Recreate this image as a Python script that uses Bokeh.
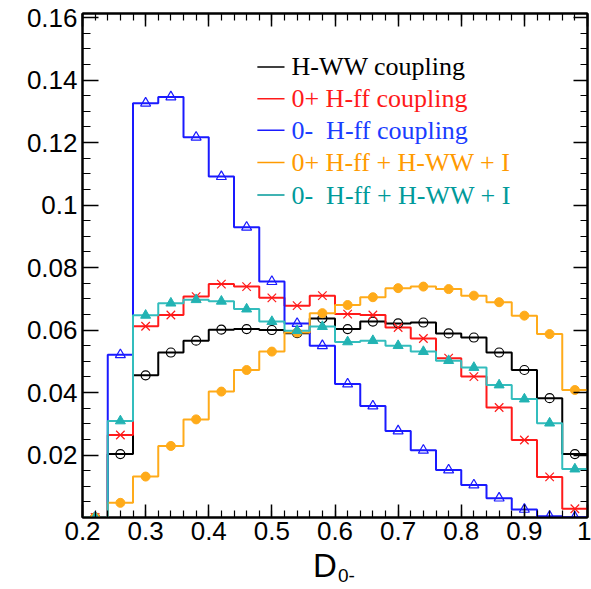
import numpy as np
from bokeh.plotting import figure
from bokeh.layouts import column
from bokeh.models import Range1d, LinearAxis, FixedTicker, CustomJSTickFormatter, Label, Div
from bokeh.embed import file_html
from bokeh.resources import INLINE

# ---------------- data ----------------
bin_edges = [0.20, 0.24, 0.28, 0.32, 0.36, 0.40, 0.44, 0.48, 0.52, 0.56, 0.60,
             0.64, 0.68, 0.72, 0.76, 0.80, 0.84, 0.88, 0.92, 0.96, 1.00]

hww = [0.0, 0.0203, 0.0455, 0.0528, 0.0566, 0.0601, 0.0603, 0.0600, 0.0590, 0.0637,
       0.0603, 0.0627, 0.0621, 0.0624, 0.0589, 0.0576, 0.0528, 0.0472, 0.0382, 0.0203]
hff_plus = [0.0, 0.0264, 0.0612, 0.0648, 0.0707, 0.0747, 0.0739, 0.0703, 0.0678, 0.0710,
            0.0651, 0.0648, 0.0608, 0.0573, 0.0510, 0.0451, 0.0352, 0.0248, 0.0130, 0.0028]
hff_minus = [0.0, 0.0521, 0.1326, 0.1346, 0.1217, 0.1091, 0.0929, 0.0755, 0.0621, 0.0550,
             0.0427, 0.0357, 0.0277, 0.0215, 0.0152, 0.0104, 0.0062, 0.0026, 0.0004, 0.0001]
mix_plus = [0.0, 0.0047, 0.0131, 0.0229, 0.0314, 0.0403, 0.0472, 0.0531, 0.0592, 0.0654,
            0.0680, 0.0705, 0.0734, 0.0739, 0.0731, 0.0710, 0.0689, 0.0646, 0.0587, 0.0408]
mix_minus = [0.0, 0.0309, 0.0647, 0.0686, 0.0697, 0.0692, 0.0667, 0.0627, 0.0598, 0.0611,
             0.0562, 0.0566, 0.0550, 0.0531, 0.0502, 0.0480, 0.0424, 0.0379, 0.0302, 0.0155]

series_labels = ["H-WW coupling", "0+ H-ff coupling", "0-\u00a0 H-ff coupling",
                 "0+ H-ff + H-WW + I", "0-\u00a0 H-ff + H-WW + I"]

x_major_ticks = [0.2, 0.3, 0.4, 0.5, 0.6, 0.7, 0.8, 0.9, 1.0]
y_major_ticks = [0.02, 0.04, 0.06, 0.08, 0.10, 0.12, 0.14, 0.16]

# ---------------- styles ----------------
series = [
    dict(vals=hww, line="#000000", text="#000000", marker="circle", fill=None, size=9),
    dict(vals=hff_plus, line="#ff1a1a", text="#ff1a1a", marker="x", fill=None, size=12),
    dict(vals=hff_minus, line="#1a1aff", text="#1a3cff", marker="triangle", fill=None, size=10),
    dict(vals=mix_plus, line="#ffab1a", text="#ff9a00", marker="circle", fill="#ffab1a", size=9),
    dict(vals=mix_minus, line="#33bdbd", text="#009a9a", marker="triangle", fill="#22b3b3", size=10),
]
legend_line_colors = ["#000000", "#ff1a1a", "#1a1aff", "#ff9a00", "#009a9a"]

p = figure(width=591, height=550, output_backend="svg", toolbar_location=None,
           x_range=Range1d(0.2, 1.0), y_range=Range1d(0.0, 0.1613),
           min_border_left=82, min_border_right=4, min_border_top=13, min_border_bottom=33)
p.xgrid.visible = False
p.ygrid.visible = False
p.outline_line_color = "black"
p.outline_line_width = 2
p.background_fill_color = "white"
p.border_fill_color = "white"

x_minor = [round(0.2 + 0.02 * i, 2) for i in range(41)]
y_minor = [round(0.005 * i, 3) for i in range(33)]
fmt = CustomJSTickFormatter(code="return String(parseFloat(tick.toFixed(3)));")
blank = CustomJSTickFormatter(code="return '';")

def style_axis(ax, ticks, minor, formatter, major_len, minor_len):
    ax.ticker = FixedTicker(ticks=ticks, minor_ticks=minor)
    ax.formatter = formatter
    ax.major_tick_in = major_len
    ax.major_tick_out = 0
    ax.minor_tick_in = minor_len
    ax.minor_tick_out = 0
    ax.major_tick_line_width = 1.5
    ax.minor_tick_line_width = 1.2
    ax.axis_line_width = 2
    ax.major_label_text_font = "Liberation Sans"
    ax.major_label_text_font_size = "26px"
    ax.major_label_text_color = "black"

style_axis(p.xaxis[0], x_major_ticks, x_minor, fmt, 13, 7)
p.xaxis[0].major_label_standoff = 4
style_axis(p.yaxis[0], y_major_ticks, y_minor, fmt, 16, 8)
p.yaxis[0].major_label_standoff = 5

top = LinearAxis()
style_axis(top, x_major_ticks, x_minor, blank, 13, 7)
top.major_label_text_font_size = "0px"
top.major_label_standoff = 0
p.add_layout(top, "above")
right = LinearAxis()
style_axis(right, y_major_ticks, y_minor, blank, 14, 7)
right.major_label_text_font_size = "0px"
right.major_label_standoff = 0
p.add_layout(right, "right")

centers = [(bin_edges[i] + bin_edges[i + 1]) / 2 for i in range(len(bin_edges) - 1)]

for s in series:
    xs, ys = [], []
    for i, v in enumerate(s["vals"]):
        xs += [bin_edges[i], bin_edges[i + 1]]
        ys += [v, v]
    p.line(xs, ys, line_color=s["line"], line_width=2)
for s in series:
    if s["fill"] is None:
        p.scatter(centers, s["vals"], marker=s["marker"], size=s["size"],
                  fill_color=None, line_color=s["line"], line_width=1.2)
    else:
        p.scatter(centers, s["vals"], marker=s["marker"], size=s["size"],
                  fill_color=s["fill"], line_color=s["fill"], line_width=1)

# ---------------- legend ----------------
leg_x0, leg_x1, leg_tx = 0.477, 0.520, 0.531
leg_y = [0.1442, 0.1340, 0.1239, 0.1136, 0.1032]
for i, s in enumerate(series):
    p.segment(x0=[leg_x0], y0=[leg_y[i]], x1=[leg_x1], y1=[leg_y[i]],
              line_color=legend_line_colors[i], line_width=1.5)
    p.add_layout(Label(x=leg_tx, y=leg_y[i], text=series_labels[i],
                       text_font="Liberation Serif", text_font_size="26px",
                       text_color=s["text"], text_baseline="middle", text_align="left"))

# ---------------- axis title D_{0-} ----------------
title_html = (
    '<div style="position:relative;width:591px;height:39px;'
    'font-family:\'Liberation Sans\';color:black;">'
    '<span style="position:absolute;left:313px;top:-1px;font-size:33px;line-height:1;">D</span>'
    '<span style="position:absolute;left:338px;top:16px;font-size:19px;line-height:1;">0-</span>'
    '</div>'
)
xtitle = Div(text=title_html, width=591, height=39, margin=(0, 0, 0, 0))

layout = column(p, xtitle, spacing=0)
open("out.html", "w").write(file_html(layout, INLINE))
